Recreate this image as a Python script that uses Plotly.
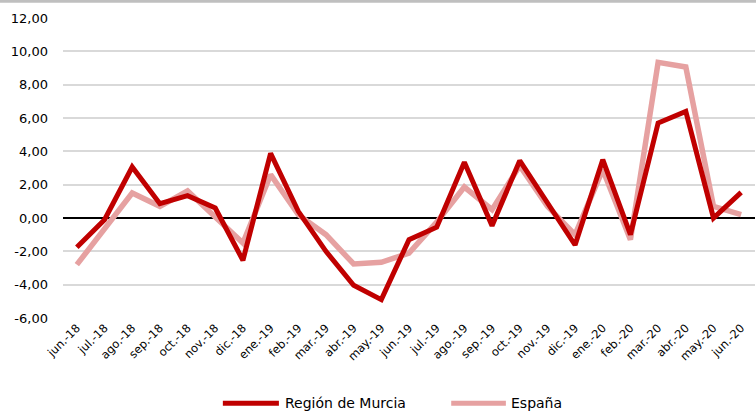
import plotly.graph_objects as go

months = ["jun.-18", "jul.-18", "ago.-18", "sep.-18", "oct.-18", "nov.-18", "dic.-18",
          "ene.-19", "feb.-19", "mar.-19", "abr.-19", "may.-19", "jun.-19", "jul.-19",
          "ago.-19", "sep.-19", "oct.-19", "nov.-19", "dic.-19", "ene.-20", "feb.-20",
          "mar.-20", "abr.-20", "may.-20", "jun.-20"]
murcia = [-1.76, -0.10, 3.06, 0.86, 1.34, 0.60, -2.54, 3.88, 0.40, -2.00, -4.04, -4.90,
          -1.30, -0.55, 3.34, -0.46, 3.44, 0.90, -1.62, 3.50, -1.00, 5.70, 6.40, 0.00, 1.54]
espana = [-2.80, -0.70, 1.50, 0.70, 1.62, 0.06, -1.50, 2.60, 0.20, -1.00, -2.76, -2.66,
          -2.10, -0.25, 1.86, 0.50, 3.14, 0.70, -1.00, 2.90, -1.30, 9.34, 9.06, 0.70, 0.20]
y_ticks = [-6, -4, -2, 0, 2, 4, 6, 8, 10, 12]
y_labels = ["-6,00", "-4,00", "-2,00", "0,00", "2,00", "4,00", "6,00", "8,00", "10,00", "12,00"]

C_MURCIA = "#c00000"
C_ESPANA = "#e6a1a1"
FONT = "DejaVu Sans"

fig = go.Figure()
fig.add_trace(go.Scatter(x=months, y=espana, mode="lines", name="España",
                         line=dict(color=C_ESPANA, width=5.5), showlegend=False))
fig.add_trace(go.Scatter(x=months, y=murcia, mode="lines", name="Región de Murcia",
                         line=dict(color=C_MURCIA, width=5), showlegend=False))

fig.update_layout(
    width=756, height=411,
    margin=dict(l=63, r=1, t=18, b=93),
    paper_bgcolor="white", plot_bgcolor="white",
    font=dict(family=FONT, color="#000000"),
    xaxis=dict(type="category", range=[-0.5, 24.5], tickangle=-45, automargin=False,
               tickfont=dict(size=11.5, family=FONT, color="#000000"), showgrid=False,
               zeroline=False, showline=False, ticks=""),
    yaxis=dict(range=[-6, 12], tickvals=y_ticks, ticktext=y_labels, automargin=False,
               tickfont=dict(size=13, family=FONT, color="#000000"), showgrid=True,
               gridcolor="#d9d9d9", gridwidth=1.5, zeroline=True, zerolinecolor="#000000",
               zerolinewidth=2, showline=False, ticks="", ticklabelstandoff=14),
)

# top grey band (clipped title bar)
fig.add_shape(type="rect", xref="paper", yref="paper", x0=-0.2, x1=1.05, y0=1.051, y1=1.2,
              fillcolor="#bfbfbf", line=dict(width=0), layer="above")

# custom legend
leg_y = -0.284
for x0, x1, col, tx, label in [(0.231, 0.312, C_MURCIA, 0.318, "Región de Murcia"),
                               (0.561, 0.640, C_ESPANA, 0.645, "España")]:
    fig.add_shape(type="line", xref="paper", yref="paper", x0=x0, x1=x1, y0=leg_y, y1=leg_y,
                  line=dict(color=col, width=5))
    fig.add_annotation(xref="paper", yref="paper", x=tx, y=leg_y, text=label, showarrow=False,
                       xanchor="left", yanchor="middle", font=dict(size=14, family=FONT))

fig.write_html("out.html", config={"displayModeBar": False},
               post_script="document.body.style.margin='0';document.body.style.overflow='hidden';")
